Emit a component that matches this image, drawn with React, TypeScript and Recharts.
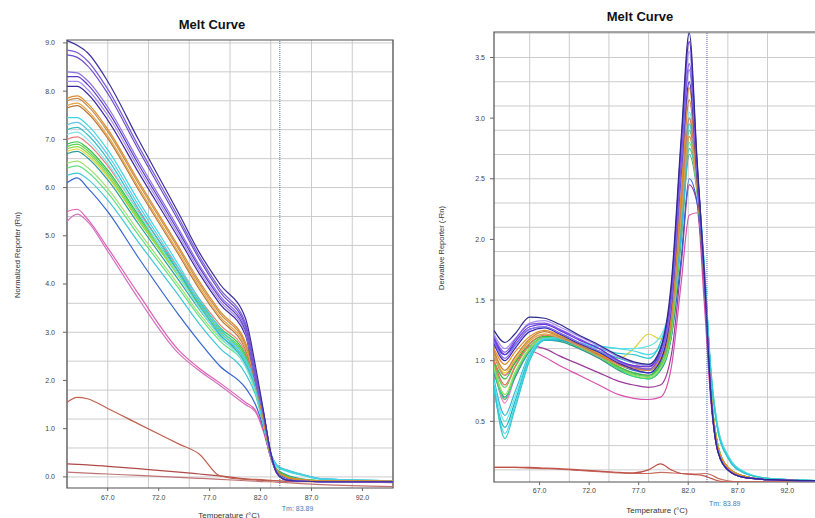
import React from 'react';
import { LineChart, Line, XAxis, YAxis, CartesianGrid, ReferenceLine, ReferenceArea } from 'recharts';

// temperatures sampled along each curve (°C)
const rnTemps = [63, 64, 65, 67, 70, 74, 76, 78, 80.5, 81.5, 82.3, 83, 83.6, 84.5, 86, 88, 95];
const drnTemps = [62.4, 63.5, 64.5, 66, 67.5, 69, 71, 73, 75, 76.5, 78, 79.2, 80.3, 81.3, 82.1, 82.9, 83.6, 84.3, 85, 86, 87.5, 90, 95.5];

const tempTicks = [67, 72, 77, 82, 87, 92];
const rnTicks = [0, 1, 2, 3, 4, 5, 6, 7, 8, 9];
const drnTicks = [0.5, 1, 1.5, 2, 2.5, 3, 3.5];
const tmValue = 83.89;

// ---- Normalized reporter (left panel) ----
const rnP1 = [9.05, 8.95, 8.8, 8.2, 7.0, 5.45, 4.65, 4.0, 3.3, 2.3, 1.35, 0.5, 0.08, -0.06, -0.09, -0.1, -0.1];
const rnP2 = [8.85, 8.8, 8.63, 8.04, 6.87, 5.36, 4.57, 3.9, 3.2, 2.2, 1.33, 0.5, 0.08, -0.06, -0.09, -0.1, -0.1];
const rnP3 = [8.75, 8.7, 8.53, 7.95, 6.79, 5.29, 4.51, 3.84, 3.15, 2.15, 1.32, 0.5, 0.09, -0.06, -0.09, -0.1, -0.1];
const rnP4 = [8.4, 8.38, 8.22, 7.67, 6.56, 5.13, 4.39, 3.76, 3.1, 2.1, 1.3, 0.48, 0.08, -0.06, -0.09, -0.1, -0.1];
const rnP5 = [8.3, 8.3, 8.14, 7.59, 6.49, 5.07, 4.34, 3.71, 3.05, 2.05, 1.3, 0.48, 0.08, -0.06, -0.09, -0.1, -0.1];
const rnP6 = [8.2, 8.2, 8.04, 7.5, 6.41, 5.0, 4.27, 3.65, 3.0, 2.0, 1.28, 0.47, 0.08, -0.06, -0.09, -0.1, -0.1];
const rnP7 = [8.1, 8.1, 7.95, 7.4, 6.32, 4.93, 4.21, 3.59, 2.95, 1.98, 1.27, 0.47, 0.08, -0.06, -0.09, -0.1, -0.1];
const rnO1 = [7.85, 7.9, 7.75, 7.21, 6.14, 4.76, 4.05, 3.44, 2.8, 2.1, 1.2, 0.45, 0.12, 0.0, -0.06, -0.08, -0.09];
const rnO2 = [7.8, 7.85, 7.7, 7.16, 6.09, 4.71, 4.0, 3.39, 2.75, 2.05, 1.18, 0.45, 0.12, 0.0, -0.06, -0.08, -0.09];
const rnO3 = [7.7, 7.75, 7.6, 7.07, 6.01, 4.64, 3.94, 3.33, 2.7, 2.0, 1.17, 0.44, 0.12, 0.0, -0.06, -0.08, -0.09];
const rnO4 = [7.65, 7.7, 7.55, 7.02, 5.96, 4.59, 3.89, 3.28, 2.65, 1.95, 1.15, 0.44, 0.12, 0.0, -0.06, -0.08, -0.09];
const rnC1 = [7.45, 7.45, 7.3, 6.78, 5.73, 4.38, 3.68, 3.08, 2.45, 1.95, 1.1, 0.48, 0.22, 0.13, 0.04, -0.05, -0.08];
const rnC2 = [7.3, 7.35, 7.2, 6.68, 5.64, 4.31, 3.61, 3.02, 2.4, 1.9, 1.1, 0.5, 0.24, 0.14, 0.05, -0.04, -0.08];
const rnC3 = [7.2, 7.25, 7.1, 6.59, 5.56, 4.24, 3.55, 2.96, 2.35, 1.85, 1.08, 0.48, 0.25, 0.15, 0.06, -0.04, -0.08];
const rnC4 = [7.1, 7.15, 7.0, 6.5, 5.48, 4.17, 3.49, 2.91, 2.3, 1.8, 1.07, 0.47, 0.2, 0.12, 0.04, -0.05, -0.08];
const rnS1 = [7.0, 7.05, 6.92, 6.45, 5.51, 4.31, 3.69, 3.16, 2.6, 1.9, 1.15, 0.44, 0.12, 0.0, -0.06, -0.08, -0.09];
const rnG1 = [6.9, 6.95, 6.82, 6.36, 5.43, 4.24, 3.63, 3.1, 2.55, 1.95, 1.12, 0.45, 0.14, 0.02, -0.05, -0.08, -0.09];
const rnG2 = [6.85, 6.9, 6.77, 6.31, 5.38, 4.19, 3.58, 3.05, 2.5, 1.9, 1.12, 0.45, 0.14, 0.02, -0.05, -0.08, -0.09];
const rnG3 = [6.8, 6.85, 6.72, 6.26, 5.33, 4.14, 3.53, 3.0, 2.45, 1.85, 1.1, 0.44, 0.14, 0.02, -0.05, -0.08, -0.09];
const rnY1 = [6.75, 6.8, 6.67, 6.22, 5.32, 4.16, 3.55, 3.04, 2.5, 1.88, 1.1, 0.42, 0.14, 0.02, -0.05, -0.08, -0.09];
const rnT1 = [6.7, 6.75, 6.62, 6.16, 5.25, 4.07, 3.47, 2.94, 2.4, 1.82, 1.1, 0.45, 0.16, 0.05, -0.04, -0.08, -0.09];
const rnG4 = [6.5, 6.55, 6.42, 5.98, 5.1, 3.97, 3.38, 2.88, 2.35, 1.78, 1.08, 0.44, 0.15, 0.03, -0.05, -0.08, -0.09];
const rnG5 = [6.4, 6.45, 6.33, 5.89, 5.02, 3.9, 3.32, 2.82, 2.3, 1.75, 1.07, 0.44, 0.15, 0.03, -0.05, -0.08, -0.09];
const rnC5 = [6.25, 6.3, 6.18, 5.74, 4.87, 3.75, 3.17, 2.67, 2.15, 1.7, 1.05, 0.48, 0.24, 0.14, 0.05, -0.04, -0.08];
const rnB1 = [6.1, 6.2, 6.0, 5.5, 4.55, 3.35, 2.8, 2.3, 1.85, 1.5, 1.0, 0.4, 0.1, -0.02, -0.07, -0.09, -0.1];
const rnK1 = [5.5, 5.55, 5.35, 4.75, 3.8, 2.62, 2.25, 1.95, 1.55, 1.38, 0.95, 0.4, 0.1, -0.02, -0.07, -0.09, -0.1];
const rnK2 = [5.3, 5.45, 5.3, 4.68, 3.7, 2.55, 2.2, 1.9, 1.5, 1.35, 0.93, 0.4, 0.1, -0.02, -0.07, -0.09, -0.1];
const rnR1 = [1.55, 1.65, 1.62, 1.42, 1.1, 0.68, 0.47, 0.02, -0.05, -0.05, -0.06, -0.07, -0.08, -0.09, -0.1, -0.1, -0.12];
const rnR2 = [0.27, 0.26, 0.25, 0.22, 0.17, 0.1, 0.06, 0.02, -0.04, -0.06, -0.07, -0.08, -0.08, -0.09, -0.09, -0.1, -0.1];
const rnR3 = [0.1, 0.09, 0.08, 0.06, 0.03, -0.01, -0.03, -0.05, -0.08, -0.09, -0.1, -0.1, -0.11, -0.12, -0.14, -0.16, -0.2];

// ---- Derivative reporter (right panel) ----
const drD1 = [1.25, 1.15, 1.22, 1.36, 1.35, 1.3, 1.21, 1.13, 1.04, 0.99, 0.97, 1.1, 1.65, 2.85, 3.7, 2.65, 1.75, 0.7, 0.25, 0.1, 0.04, 0.02, 0.01];
const drD2 = [1.18, 1.05, 1.15, 1.28, 1.3, 1.25, 1.17, 1.1, 1.0, 0.96, 0.95, 1.08, 1.6, 2.8, 3.63, 2.62, 1.74, 0.7, 0.25, 0.1, 0.04, 0.02, 0.01];
const drD3 = [1.2, 1.07, 1.17, 1.3, 1.31, 1.26, 1.18, 1.1, 1.0, 0.95, 0.93, 1.05, 1.52, 2.65, 3.45, 2.58, 1.72, 0.7, 0.25, 0.1, 0.04, 0.02, 0.01];
const drD4 = [1.16, 1.02, 1.12, 1.26, 1.28, 1.23, 1.15, 1.08, 0.99, 0.95, 0.93, 1.04, 1.48, 2.6, 3.4, 2.55, 1.72, 0.7, 0.25, 0.1, 0.04, 0.02, 0.01];
const drD5 = [1.22, 1.1, 1.18, 1.31, 1.33, 1.28, 1.2, 1.12, 1.03, 0.98, 0.96, 1.1, 1.58, 2.72, 3.55, 2.6, 1.74, 0.7, 0.25, 0.1, 0.04, 0.02, 0.01];
const drD6 = [1.14, 1.0, 1.1, 1.24, 1.27, 1.22, 1.14, 1.07, 0.98, 0.93, 0.9, 1.0, 1.45, 2.55, 3.3, 2.5, 1.7, 0.7, 0.25, 0.1, 0.04, 0.02, 0.01];
const drO1 = [1.1, 0.97, 1.07, 1.2, 1.25, 1.21, 1.14, 1.06, 0.98, 0.95, 0.93, 1.02, 1.4, 2.4, 3.25, 2.5, 1.7, 0.72, 0.28, 0.12, 0.05, 0.02, 0.01];
const drO2 = [1.08, 0.92, 1.03, 1.18, 1.24, 1.2, 1.13, 1.05, 0.97, 0.94, 0.92, 1.0, 1.36, 2.35, 3.15, 2.48, 1.7, 0.72, 0.28, 0.12, 0.05, 0.02, 0.01];
const drO3 = [1.05, 0.88, 1.0, 1.16, 1.22, 1.19, 1.12, 1.04, 0.96, 0.93, 0.92, 1.0, 1.32, 2.2, 2.85, 2.42, 1.68, 0.72, 0.28, 0.12, 0.05, 0.02, 0.01];
const drS1 = [1.0, 0.8, 0.95, 1.14, 1.21, 1.19, 1.12, 1.04, 0.98, 0.96, 0.95, 1.02, 1.35, 2.25, 3.0, 2.45, 1.7, 0.72, 0.28, 0.12, 0.05, 0.02, 0.01];
const drC1 = [0.8, 0.36, 0.6, 1.0, 1.17, 1.18, 1.14, 1.1, 1.06, 1.05, 1.02, 1.15, 1.5, 2.25, 3.0, 2.55, 1.8, 0.88, 0.42, 0.2, 0.08, 0.03, 0.01];
const drC2 = [0.78, 0.4, 0.63, 1.02, 1.18, 1.19, 1.15, 1.12, 1.1, 1.08, 1.05, 1.12, 1.45, 2.2, 2.95, 2.52, 1.8, 0.9, 0.44, 0.22, 0.09, 0.03, 0.01];
const drC3 = [0.75, 0.45, 0.66, 1.03, 1.17, 1.17, 1.12, 1.08, 1.02, 0.98, 0.96, 1.05, 1.4, 2.15, 2.9, 2.5, 1.78, 0.88, 0.42, 0.2, 0.08, 0.03, 0.01];
const drC4 = [0.82, 0.5, 0.7, 1.05, 1.18, 1.18, 1.14, 1.12, 1.1, 1.1, 1.12, 1.2, 1.5, 2.25, 3.05, 2.55, 1.82, 0.92, 0.45, 0.22, 0.09, 0.03, 0.01];
const drC5 = [0.85, 0.55, 0.74, 1.06, 1.17, 1.17, 1.12, 1.07, 1.0, 0.95, 0.92, 1.0, 1.35, 2.05, 2.75, 2.45, 1.78, 0.9, 0.44, 0.21, 0.08, 0.03, 0.01];
const drG1 = [1.0, 0.85, 0.98, 1.14, 1.2, 1.19, 1.13, 1.05, 0.95, 0.9, 0.88, 0.98, 1.3, 2.2, 2.95, 2.48, 1.72, 0.74, 0.3, 0.12, 0.05, 0.02, 0.01];
const drG2 = [0.97, 0.78, 0.94, 1.12, 1.19, 1.18, 1.12, 1.04, 0.94, 0.89, 0.87, 0.96, 1.26, 2.12, 2.85, 2.45, 1.72, 0.74, 0.3, 0.12, 0.05, 0.02, 0.01];
const drG3 = [0.95, 0.72, 0.9, 1.1, 1.18, 1.18, 1.12, 1.04, 0.94, 0.88, 0.86, 0.94, 1.22, 2.05, 2.75, 2.4, 1.7, 0.74, 0.3, 0.12, 0.05, 0.02, 0.01];
const drG4 = [0.93, 0.68, 0.88, 1.09, 1.18, 1.17, 1.11, 1.03, 0.93, 0.87, 0.85, 0.93, 1.24, 2.1, 2.8, 2.42, 1.7, 0.74, 0.3, 0.12, 0.05, 0.02, 0.01];
const drY1 = [1.05, 0.9, 1.02, 1.17, 1.22, 1.2, 1.14, 1.08, 1.02, 1.1, 1.22, 1.18, 1.35, 2.15, 2.9, 2.45, 1.72, 0.74, 0.3, 0.12, 0.05, 0.02, 0.01];
const drT1 = [0.9, 0.7, 0.86, 1.08, 1.17, 1.16, 1.1, 1.02, 0.92, 0.87, 0.85, 0.92, 1.2, 2.0, 2.7, 2.38, 1.7, 0.74, 0.3, 0.12, 0.05, 0.02, 0.01];
const drK3 = [0.95, 0.65, 0.86, 1.1, 1.19, 1.17, 1.1, 1.02, 0.94, 0.9, 0.88, 0.95, 1.28, 2.1, 2.85, 2.45, 1.72, 0.74, 0.3, 0.12, 0.05, 0.02, 0.01];
const drB1 = [1.15, 1.05, 1.13, 1.26, 1.28, 1.23, 1.15, 1.07, 0.97, 0.92, 0.9, 0.96, 1.2, 1.85, 2.5, 2.3, 1.68, 0.74, 0.3, 0.12, 0.05, 0.02, 0.01];
const drK1 = [0.98, 0.68, 0.86, 1.08, 1.03, 0.96, 0.88, 0.8, 0.72, 0.69, 0.68, 0.7, 0.95, 1.65, 2.2, 2.22, 1.5, 0.65, 0.25, 0.1, 0.04, 0.02, 0.01];
const drK2 = [1.05, 0.88, 0.98, 1.12, 1.1, 1.04, 0.97, 0.9, 0.83, 0.8, 0.78, 0.8, 1.05, 1.8, 2.45, 2.3, 1.62, 0.7, 0.27, 0.11, 0.05, 0.02, 0.01];
const drR1 = [0.12, 0.12, 0.12, 0.12, 0.115, 0.11, 0.1, 0.09, 0.08, 0.075, 0.1, 0.15, 0.1, 0.07, 0.065, 0.06, 0.05, 0.03, 0.01, 0, 0, 0, 0];
const drR2 = [0.12, 0.12, 0.12, 0.115, 0.11, 0.105, 0.095, 0.085, 0.075, 0.07, 0.07, 0.08, 0.075, 0.07, 0.065, 0.065, 0.07, 0.06, 0.03, 0.01, 0, 0, 0];

type Curve = { key: string; color: string; values: number[] };

const rnCurves: Curve[] = [
  { key: 'r3', color: '#c07272', values: rnR3 },
  { key: 'r2', color: '#b04a48', values: rnR2 },
  { key: 'r1', color: '#c0604f', values: rnR1 },
  { key: 'k2', color: '#d472c2', values: rnK2 },
  { key: 'k1', color: '#e05fb0', values: rnK1 },
  { key: 'b1', color: '#3565cf', values: rnB1 },
  { key: 'c5', color: '#3ec6d8', values: rnC5 },
  { key: 'g5', color: '#5fe082', values: rnG5 },
  { key: 'g4', color: '#a2e070', values: rnG4 },
  { key: 't1', color: '#2a9e9e', values: rnT1 },
  { key: 'y1', color: '#e2d23c', values: rnY1 },
  { key: 'g3', color: '#8fd944', values: rnG3 },
  { key: 'g2', color: '#5fd052', values: rnG2 },
  { key: 'g1', color: '#2fbf45', values: rnG1 },
  { key: 's1', color: '#e88080', values: rnS1 },
  { key: 'c4', color: '#80e2f0', values: rnC4 },
  { key: 'c3', color: '#36bfc2', values: rnC3 },
  { key: 'c2', color: '#5cc6ea', values: rnC2 },
  { key: 'c1', color: '#3fd6e0', values: rnC1 },
  { key: 'o4', color: '#b8783a', values: rnO4 },
  { key: 'o3', color: '#e6a545', values: rnO3 },
  { key: 'o2', color: '#c98a4a', values: rnO2 },
  { key: 'o1', color: '#d98f2e', values: rnO1 },
  { key: 'p7', color: '#3f2aa0', values: rnP7 },
  { key: 'p6', color: '#a58cec', values: rnP6 },
  { key: 'p5', color: '#5a3ac6', values: rnP5 },
  { key: 'p4', color: '#8f72e2', values: rnP4 },
  { key: 'p3', color: '#6b4cc8', values: rnP3 },
  { key: 'p2', color: '#7a5cd6', values: rnP2 },
  { key: 'p1', color: '#3b2f9e', values: rnP1 },
];

const drCurves: Curve[] = [
  { key: 'r2', color: '#c87060', values: drR2 },
  { key: 'r1', color: '#c05048', values: drR1 },
  { key: 'k1', color: '#d850b0', values: drK1 },
  { key: 'k2', color: '#9a3a9a', values: drK2 },
  { key: 'b1', color: '#2f5fd0', values: drB1 },
  { key: 'k3', color: '#f080c0', values: drK3 },
  { key: 't1', color: '#2a9a8a', values: drT1 },
  { key: 'g4', color: '#40d880', values: drG4 },
  { key: 'g3', color: '#92e050', values: drG3 },
  { key: 'g2', color: '#62d060', values: drG2 },
  { key: 'g1', color: '#30c040', values: drG1 },
  { key: 'y1', color: '#e0d030', values: drY1 },
  { key: 'c5', color: '#38b8d8', values: drC5 },
  { key: 'c4', color: '#66e2e6', values: drC4 },
  { key: 'c3', color: '#1fb0c0', values: drC3 },
  { key: 'c2', color: '#48d8e8', values: drC2 },
  { key: 'c1', color: '#30c8d0', values: drC1 },
  { key: 's1', color: '#e8705a', values: drS1 },
  { key: 'o3', color: '#d8a050', values: drO3 },
  { key: 'o2', color: '#c97c40', values: drO2 },
  { key: 'o1', color: '#e0902a', values: drO1 },
  { key: 'd6', color: '#3c28b4', values: drD6 },
  { key: 'd4', color: '#8c72ea', values: drD4 },
  { key: 'd5', color: '#a68cf0', values: drD5 },
  { key: 'd3', color: '#7c5ce0', values: drD3 },
  { key: 'd2', color: '#6a30e0', values: drD2 },
  { key: 'd1', color: '#2c2a8a', values: drD1 },
];

function buildRows(temps: number[], curves: Curve[]) {
  return temps.map((t, i) => {
    const row: Record<string, number> = { t };
    curves.forEach((c) => {
      row[c.key] = c.values[i];
    });
    return row;
  });
}

const rnData = buildRows(rnTemps, rnCurves);
const drnData = buildRows(drnTemps, drCurves);

// grid positions (1 °C vertical, 0.2 / 0.1 horizontal)
const range = (from: number, to: number, step: number) => {
  const out: number[] = [];
  for (let v = from; v <= to + 1e-9; v += step) out.push(Math.round(v * 100) / 100);
  return out;
};
const rnGridX = range(63, 95, 1);
const rnGridY = range(-0.2, 9.0, 0.2);
const drGridX = range(63, 95, 1);
const drGridY = range(0.1, 3.7, 0.1);

const FONT = '"Liberation Sans", Arial, sans-serif';

function TmLabel(props: any) {
  const vb = props.viewBox || {};
  return (
    <text x={vb.x + 2} y={vb.y + vb.height + props.dy} fontSize={7} fill="#4a7ab8" fontFamily={FONT}>
      Tm: {tmValue.toFixed(2)}
    </text>
  );
}

const tickStyle = { fontSize: 7, fill: '#444', fontFamily: FONT };

function Overlay({ x, y, text, size, bold, rotate }: any) {
  return (
    <div
      style={{
        position: 'absolute',
        left: x,
        top: y,
        transform: `translate(-50%, -50%)${rotate ? ' rotate(-90deg)' : ''}`,
        whiteSpace: 'nowrap',
        fontFamily: FONT,
        fontSize: size,
        fontWeight: bold ? 'bold' : 'normal',
        color: bold ? '#111' : '#333',
      }}
    >
      {text}
    </div>
  );
}

export default function App() {
  return (
    <div style={{ position: 'absolute', left: 0, top: 0, width: 815, height: 518, overflow: 'hidden', background: '#fff' }}>
      {/* Left: normalized reporter */}
      <div style={{ position: 'absolute', left: 0, top: 0 }}>
        <LineChart width={400} height={518} data={rnData} margin={{ top: 40, right: 7, bottom: 0, left: 37 }}>
          <CartesianGrid stroke="#cccccc" verticalValues={rnGridX} horizontalValues={rnGridY} />
          <XAxis
            dataKey="t"
            type="number"
            domain={[63, 95]}
            ticks={tempTicks}
            tickFormatter={(v) => v.toFixed(1)}
            tick={tickStyle}
            tickLine={{ stroke: '#666' }}
            tickSize={3}
            tickMargin={4}
            axisLine={false}
            height={30}
            allowDataOverflow
          />
          <YAxis
            type="number"
            domain={[-0.23, 9.06]}
            ticks={rnTicks}
            tickFormatter={(v) => v.toFixed(1)}
            tick={tickStyle}
            tickLine={{ stroke: '#666' }}
            tickSize={4}
            tickMargin={8}
            axisLine={false}
            width={30}
            allowDataOverflow
          />
          {rnCurves.map((c) => (
            <Line key={c.key} type="monotone" dataKey={c.key} stroke={c.color} strokeWidth={1.2} dot={false} isAnimationActive={false} />
          ))}
          <ReferenceLine x={tmValue} stroke="#3d7f8f" strokeDasharray="1 1" label={<TmLabel dy={23} />} />
          <ReferenceArea x1={63} x2={95} y1={-0.23} y2={9.06} fill="none" stroke="#505050" strokeWidth={1.2} />
        </LineChart>
      </div>

      {/* Right: derivative reporter */}
      <div style={{ position: 'absolute', left: 400, top: 0 }}>
        <LineChart width={422} height={518} data={drnData} margin={{ top: 32, right: 0, bottom: 0, left: 64 }}>
          <CartesianGrid stroke="#cccccc" verticalValues={drGridX} horizontalValues={drGridY} />
          <XAxis
            dataKey="t"
            type="number"
            domain={[62.4, 95.5]}
            ticks={tempTicks}
            tickFormatter={(v) => v.toFixed(1)}
            tick={tickStyle}
            tickLine={{ stroke: '#666' }}
            tickSize={3}
            tickMargin={3}
            axisLine={false}
            height={36}
            allowDataOverflow
          />
          <YAxis
            type="number"
            domain={[0, 3.71]}
            ticks={drnTicks}
            tickFormatter={(v) => v.toFixed(1)}
            tick={tickStyle}
            tickLine={{ stroke: '#666' }}
            tickSize={4}
            tickMargin={5}
            axisLine={false}
            width={30}
            allowDataOverflow
          />
          {drCurves.map((c) => (
            <Line key={c.key} type="monotone" dataKey={c.key} stroke={c.color} strokeWidth={1.2} dot={false} isAnimationActive={false} />
          ))}
          <ReferenceLine x={tmValue} stroke="#5060b0" strokeDasharray="1 1" label={<TmLabel dy={24} />} />
          <ReferenceArea x1={62.4} x2={95.5} y1={0} y2={3.71} fill="none" stroke="#505050" strokeWidth={1.2} />
        </LineChart>
      </div>

      <Overlay x={212} y={24} text="Melt Curve" size={13} bold />
      <Overlay x={640} y={16} text="Melt Curve" size={13} bold />
      <Overlay x={17} y={255} text="Normalized Reporter (Rn)" size={7.5} rotate />
      <Overlay x={441} y={248} text="Derivative Reporter (-Rn)" size={7.5} rotate />
      <Overlay x={229} y={515} text="Temperature (°C)" size={8} />
      <Overlay x={657} y={510} text="Temperature (°C)" size={8} />
    </div>
  );
}
